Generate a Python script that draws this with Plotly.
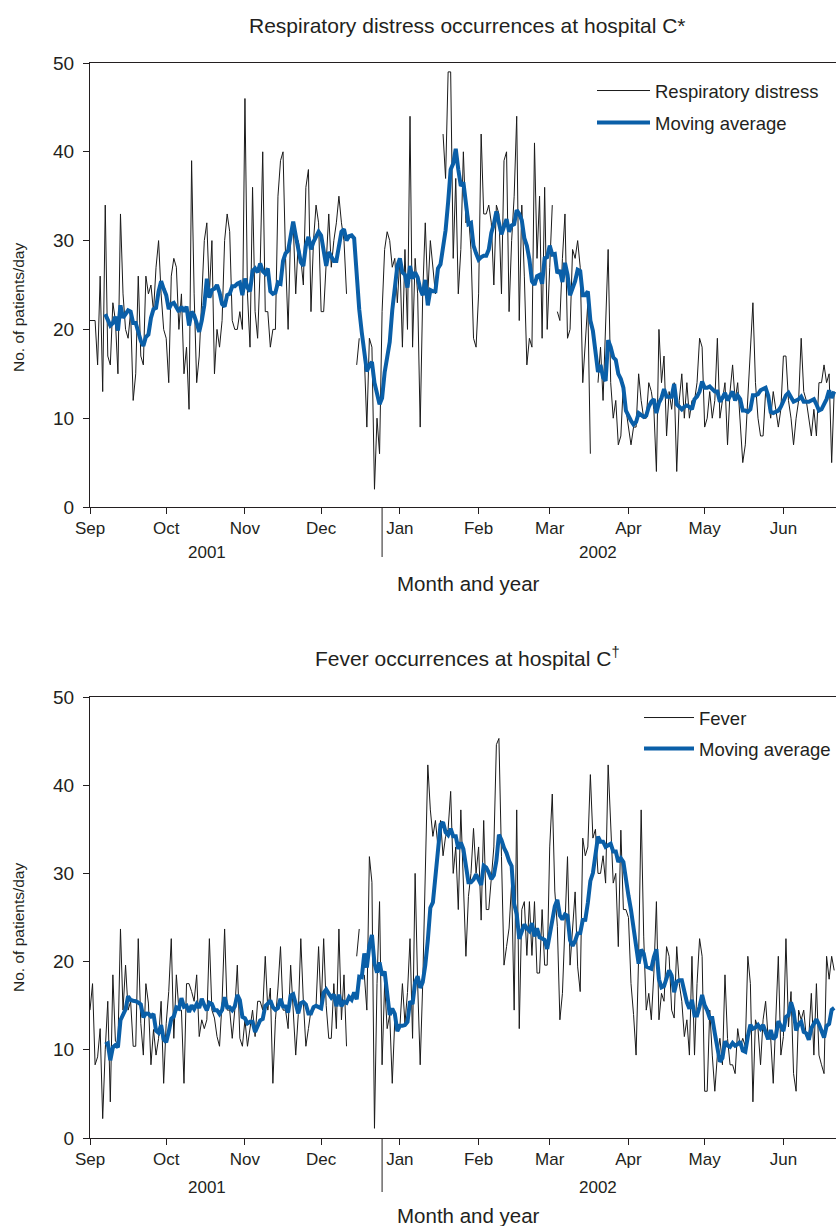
import pandas as pd
import plotly.graph_objects as go

# ---------------- data (daily counts) ----------------
start_date = "2001-09-01"
window = 7  # trailing moving-average window (days)

respiratory = [
    21, 21, 21, 16, 26, 13, 34, 17, 16, 23,
    21, 15, 33, 24, 20, 19, 22, 12, 15, 26,
    17, 16, 26, 24, 25, 22, 27, 30, 24, 20,
    19, 14, 26, 28, 27, 20, 24, 15, 18, 11,
    39, 24, 14, 17, 24, 30, 32, 24, 30, 15,
    20, 18, 21, 30, 33, 31, 21, 20, 20, 22,
    20, 46, 24, 18, 36, 22, 19, 27, 40, 22,
    22, 18, 20, 20, 35, 39, 40, 28, 20, 31,
    32, 24, 30, 28, 25, 36, 38, 22, 30, 34,
    32, 22, 22, 28, 33, 27, 30, 32, 35, 32,
    30, 24, None, None, None, 16, 19, None, 17, 9,
    19, 18, 2, 10, 6, 22, 29, 31, 30, 27,
    28, 23, 28, 18, 29, 20, 44, 18, 28, 24,
    9, 24, 32, 24, 30, 27, 24, 27, None, 42,
    37, 49, 49, 28, 37, 24, 29, 40, 32, 33,
    29, 19, 18, 24, 42, 33, 33, 34, 32, 25,
    34, 33, 24, 39, 40, 22, 30, 35, 44, 21,
    34, 26, 16, 19, 18, 41, 28, 35, 19, 36,
    20, 27, 34, None, 22, 21, 28, 33, 19, 20,
    29, 28, 30, 27, 14, 19, 23, 6, None, None,
    14, 18, 12, 21, 29, 14, 10, 12, 7, 8,
    14, 11, 9, 7, 9, 9, 15, 12, 10, 10,
    14, 13, 11, 4, 20, 14, 17, 8, 13, 11,
    14, 4, 12, 15, 10, 14, 10, 12, 12, 14,
    19, 18, 9, 10, 13, 10, 12, 19, 10, 12,
    14, 7, 13, 16, 12, 14, 9, 5, 7, 12,
    18, 23, 14, 10, 8, 8, 13, 12, 10, 13,
    11, 9, 11, 17, 17, 12, 10, 7, 10, 12,
    19, 13, 12, 10, 8, 11, 8, 14, 14, 16,
    14, 15, 5, 13,
]

fever = [
    14.5, 17.5, 8.3, 9.2, 12.4, 2.2, 10, 15.5, 4.1, 18.5,
    11, 10.7, 23.7, 14.5, 19.6, 14.5, 15.5, 10.4, 10.4, 22.6,
    13, 9.4, 17.5, 15.3, 8.3, 12.3, 9.4, 11.3, 15.5, 6.2,
    13, 16.6, 22.6, 11.3, 18.5, 14.5, 14.5, 6.2, 17.5, 17.5,
    16.6, 15.5, 18.5, 11.5, 13.4, 12.4, 13.4, 22.6, 14.5, 13.6,
    11.5, 10.4, 15.5, 23.7, 14.5, 14.5, 11.3, 14.5, 19.6, 11.3,
    10.4, 13.4, 10.4, 12.6, 14.5, 11.5, 15.5, 15.5, 14.5, 20.6,
    14.5, 17, 6.2, 13.4, 17, 21.7, 14.5, 14.5, 12.4, 19.6,
    14.5, 9.4, 14, 22.6, 15.5, 10.4, 12.4, 14.5, 14.5, 15,
    21.7, 14.5, 22.6, 15, 11.3, 11.3, 17.5, 12.4, 23.7, 13.4,
    18.5, 10.4, None, None, None, 20.6, 23.7, None, 18.5, 14.5,
    31.9, 29, 1.1, 17.5, 26.8, 8.3, 17.5, 12.4, 14, 6.2,
    13.4, 13, 12.5, 17.5, 13, 16.5, 22.6, 11.3, 30, 17.5,
    8.3, 17.5, 30, 42.3, 37.2, 34.2, 36, 33, 36, 32,
    34.2, 35, 39.3, 30, 33, 25.9, 37.2, 28.9, 20.6, 27.4,
    30, 35.1, 30, 33, 24.7, 36, 25.9, 25.9, 30, 33,
    44.6, 45.3, 31.9, 19.6, 21.7, 23.8, 28.9, 14.5, 37.2, 12.4,
    25.9, 26.8, 20.7, 26.8, 20.7, 26.8, 18.7, 18.7, 25.9, 19.6,
    19.6, 33, 39, 28, 24, 13.4, 16.4, 23.6, 31.9, 19.6,
    23.6, 27.9, 19.4, 16.6, 34, 32, 33, 41.2, 34, 35,
    30, 30, 32, 28.9, 42.3, 35.3, 28.9, 30, 21.7, 34.9,
    25.9, 25.9, 25, 17.5, 14, 9.4, 20.6, 37.2, 22.8, 14.5,
    16.4, 13.4, 18.7, 26.8, 13.4, 16.4, 15.5, 21.7, 20.6, 14.5,
    13.6, 21.7, 17.5, 15.5, 11.5, 13.4, 9.4, 20.6, 9.4, 17.5,
    22.6, 20.6, 5.3, 5.3, 14.5, 9.4, 5.3, 9.4, 11.3, 8.3,
    18.5, 11.3, 8.3, 8.3, 7.3, 12.4, 10.4, 11.3, 10.4, 20.6,
    17.5, 4.1, 13.4, 12.4, 8.3, 13.4, 15.5, 11.3, 11.3, 6.2,
    14.5, 20.6, 9.4, 11.5, 22.6, 12.6, 16.6, 7.3, 5.3, 14.5,
    13.4, 14.5, 11.5, 11.5, 16.4, 9.4, 17.5, 9.4, 8.3, 7.3,
    20.6, 18, 20.6, 19,
]

year_labels = ["2001", "2002"]
year_label_dates = ["2001-10-17", "2002-03-20"]
year_divider_date = "2001-12-25"
x_range = ["2001-09-01", "2002-06-21 17:00"]

titles = ["Respiratory distress occurrences at hospital C*",
          "Fever occurrences at hospital C<sup>†</sup>"]
raw_names = ["Respiratory distress", "Fever"]
ma_name = "Moving average"
x_title = "Month and year"
y_title = "No. of patients/day"

# ---------------- derived series ----------------
dates = pd.date_range(start_date, periods=len(respiratory), freq="D")


def moving_average(values):
    s = pd.Series(values, index=dates, dtype=float)
    ma = s.rolling(window, min_periods=3).mean()
    ma.iloc[: window - 1] = float("nan")
    return s, ma


resp_s, resp_ma = moving_average(respiratory)
fev_s, fev_ma = moving_average(fever)

# ---------------- figure ----------------
W, H = 836, 1226
L = 90
PW = W - L
TXT = "#231f20"
BLUE = "#0a5fa8"
FONT = "Liberation Sans, Arial, Helvetica, sans-serif"


def py(sy):
    return 1 - sy / H


def pxx(sx):
    return (sx - L) / PW


fig = go.Figure()
panels = [(resp_s, resp_ma, "x", "y", "legend", raw_names[0]),
          (fev_s, fev_ma, "x2", "y2", "legend2", raw_names[1])]
for s, ma, xa, ya, lg, nm in panels:
    fig.add_trace(go.Scatter(x=s.index, y=s.values, mode="lines", name=nm,
                             line=dict(color="#1a1a1a", width=1),
                             connectgaps=False, xaxis=xa, yaxis=ya,
                             legend=lg, legendgroup=nm + "raw"))
    fig.add_trace(go.Scatter(x=ma.index, y=ma.values, mode="lines", name=ma_name,
                             line=dict(color=BLUE, width=4),
                             connectgaps=True, xaxis=xa, yaxis=ya,
                             legend=lg, legendgroup=nm + "ma"))

axis_common = dict(showline=True, linecolor="#231f20", linewidth=1,
                   ticks="outside", ticklen=6, tickwidth=1, tickcolor="#231f20",
                   showgrid=False, zeroline=False, automargin=False)

xaxis_common = dict(axis_common, type="date", range=x_range, dtick="M1",
                    tick0="2001-09-01", tickformat="%b", mirror=True,
                    tickfont=dict(size=17, color=TXT), domain=[0, 1])
yaxis_common = dict(axis_common, range=[0, 50], dtick=10, ticklabelstandoff=5,
                    tickfont=dict(size=19, color=TXT))

top_dom = [py(507), py(63)]
bot_dom = [py(1138), py(697)]

fig.update_layout(
    width=W, height=H,
    margin=dict(l=L, r=0, t=0, b=0, autoexpand=False),
    paper_bgcolor="white", plot_bgcolor="white",
    font=dict(family=FONT, size=17, color=TXT),
    showlegend=True,
    xaxis=dict(xaxis_common, anchor="y"),
    yaxis=dict(yaxis_common, domain=top_dom, anchor="x"),
    xaxis2=dict(xaxis_common, anchor="y2"),
    yaxis2=dict(yaxis_common, domain=bot_dom, anchor="x2"),
    legend=dict(x=pxx(592), y=py(72), xanchor="left", yanchor="top",
                itemwidth=53, traceorder="grouped", tracegroupgap=5,
                bgcolor="rgba(0,0,0,0)", font=dict(size=18.5, color=TXT)),
    legend2=dict(x=1.0, y=py(699), xanchor="right", yanchor="top",
                 itemwidth=50, traceorder="grouped", tracegroupgap=4,
                 bgcolor="rgba(0,0,0,0)", font=dict(size=18.5, color=TXT)),
)

annotations = []
shapes = []
panel_geo = [
    dict(title_y=25, axis_y=507, year_y=553, div_end=557, xt_y=584, xref="x", yc=308),
    dict(title_y=657, axis_y=1138, year_y=1187, div_end=1192, xt_y=1215, xref="x2", yc=928),
]
for i, g in enumerate(panel_geo):
    annotations.append(dict(text=titles[i], xref="paper", yref="paper",
                            x=pxx(467), y=py(g["title_y"]), xanchor="center",
                            yanchor="middle", showarrow=False,
                            font=dict(size=21, color=TXT)))
    annotations.append(dict(text=x_title, xref="paper", yref="paper",
                            x=pxx(468), y=py(g["xt_y"]), xanchor="center",
                            yanchor="middle", showarrow=False,
                            font=dict(size=20.5, color=TXT)))
    annotations.append(dict(text=y_title, xref="paper", yref="paper",
                            x=pxx(18), y=py(g["yc"]), xanchor="center",
                            yanchor="middle", textangle=-90, showarrow=False,
                            font=dict(size=15.5, color=TXT)))
    for lab, d in zip(year_labels, year_label_dates):
        annotations.append(dict(text=lab, xref=g["xref"], yref="paper",
                                x=d, y=py(g["year_y"]), xanchor="center",
                                yanchor="middle", showarrow=False,
                                font=dict(size=17, color=TXT)))
    shapes.append(dict(type="line", xref=g["xref"], yref="paper",
                       x0=year_divider_date, x1=year_divider_date,
                       y0=py(g["axis_y"]), y1=py(g["div_end"]),
                       line=dict(color="#231f20", width=1)))

fig.update_layout(annotations=annotations, shapes=shapes)

# remove the default page margin so the 836x1226 figure fills the window exactly
fig.write_html("out.html",
               config={"displayModeBar": False},
               post_script="document.body.style.margin='0';"
                           "document.body.style.overflow='hidden';")
